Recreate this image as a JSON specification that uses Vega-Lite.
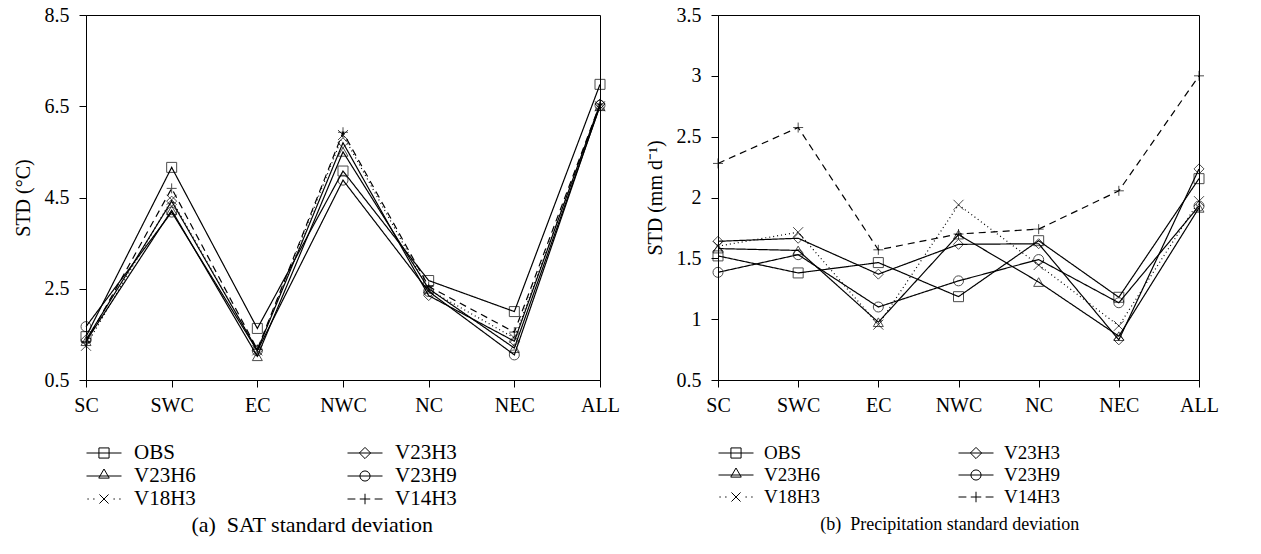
{
  "$schema": "https://vega.github.io/schema/vega-lite/v6.json",
  "background": "white",
  "padding": {"left": 12, "top": 4, "right": 5, "bottom": 5},
  "spacing": 24,
  "config": {
    "font": "Liberation Serif",
    "view": {"stroke": "black", "strokeWidth": 1},
    "axis": {
      "domainColor": "black", "domainWidth": 1, "tickColor": "black", "tickWidth": 1, "tickSize": 7,
      "labelColor": "black", "titleColor": "black", "labelFont": "Liberation Serif", "titleFont": "Liberation Serif",
      "labelFontSize": 20, "titleFontSize": 20, "titleFontWeight": "normal", "grid": false
    },
    "legend": {
      "labelFont": "Liberation Serif", "labelFontSize": 20, "labelColor": "black",
      "symbolSize": 1225, "symbolStrokeColor": "black", "symbolStrokeWidth": 1, "symbolFillColor": "transparent", "symbolOpacity": 1,
      "clipHeight": 20, "rowPadding": 2, "labelOffset": 11, "symbolOffset": 0, "padding": 0
    },
    "title": {"font": "Liberation Serif", "fontSize": 20, "fontWeight": "normal", "color": "black"}
  },
  "resolve": {"scale": {"shape": "independent", "strokeDash": "independent"}, "legend": {"shape": "independent", "strokeDash": "independent"}},
  "datasets": {
    "sat": [
      {"region": "SC", "series": "OBS", "std": 1.45}, {"region": "SC", "series": "V23H3", "std": 1.38}, {"region": "SC", "series": "V23H6", "std": 1.35}, {"region": "SC", "series": "V23H9", "std": 1.67}, {"region": "SC", "series": "V18H3", "std": 1.25}, {"region": "SC", "series": "V14H3", "std": 1.32},
      {"region": "SWC", "series": "OBS", "std": 5.16}, {"region": "SWC", "series": "V23H3", "std": 4.42}, {"region": "SWC", "series": "V23H6", "std": 4.22}, {"region": "SWC", "series": "V23H9", "std": 4.18}, {"region": "SWC", "series": "V18H3", "std": 4.45}, {"region": "SWC", "series": "V14H3", "std": 4.7},
      {"region": "EC", "series": "OBS", "std": 1.63}, {"region": "EC", "series": "V23H3", "std": 1.15}, {"region": "EC", "series": "V23H6", "std": 1.02}, {"region": "EC", "series": "V23H9", "std": 1.14}, {"region": "EC", "series": "V18H3", "std": 1.15}, {"region": "EC", "series": "V14H3", "std": 1.17},
      {"region": "NWC", "series": "OBS", "std": 5.08}, {"region": "NWC", "series": "V23H3", "std": 5.7}, {"region": "NWC", "series": "V23H6", "std": 5.5}, {"region": "NWC", "series": "V23H9", "std": 4.88}, {"region": "NWC", "series": "V18H3", "std": 5.87}, {"region": "NWC", "series": "V14H3", "std": 5.93},
      {"region": "NC", "series": "OBS", "std": 2.68}, {"region": "NC", "series": "V23H3", "std": 2.35}, {"region": "NC", "series": "V23H6", "std": 2.5}, {"region": "NC", "series": "V23H9", "std": 2.44}, {"region": "NC", "series": "V18H3", "std": 2.48}, {"region": "NC", "series": "V14H3", "std": 2.55},
      {"region": "NEC", "series": "OBS", "std": 2.0}, {"region": "NEC", "series": "V23H3", "std": 1.35}, {"region": "NEC", "series": "V23H6", "std": 1.2}, {"region": "NEC", "series": "V23H9", "std": 1.05}, {"region": "NEC", "series": "V18H3", "std": 1.42}, {"region": "NEC", "series": "V14H3", "std": 1.55},
      {"region": "ALL", "series": "OBS", "std": 6.98}, {"region": "ALL", "series": "V23H3", "std": 6.55}, {"region": "ALL", "series": "V23H6", "std": 6.5}, {"region": "ALL", "series": "V23H9", "std": 6.52}, {"region": "ALL", "series": "V18H3", "std": 6.5}, {"region": "ALL", "series": "V14H3", "std": 6.55}
    ],
    "pre": [
      {"region": "SC", "series": "OBS", "std": 1.52}, {"region": "SC", "series": "V23H3", "std": 1.64}, {"region": "SC", "series": "V23H6", "std": 1.58}, {"region": "SC", "series": "V23H9", "std": 1.385}, {"region": "SC", "series": "V18H3", "std": 1.6}, {"region": "SC", "series": "V14H3", "std": 2.28},
      {"region": "SWC", "series": "OBS", "std": 1.38}, {"region": "SWC", "series": "V23H3", "std": 1.665}, {"region": "SWC", "series": "V23H6", "std": 1.565}, {"region": "SWC", "series": "V23H9", "std": 1.53}, {"region": "SWC", "series": "V18H3", "std": 1.715}, {"region": "SWC", "series": "V14H3", "std": 2.575},
      {"region": "EC", "series": "OBS", "std": 1.465}, {"region": "EC", "series": "V23H3", "std": 1.37}, {"region": "EC", "series": "V23H6", "std": 0.975}, {"region": "EC", "series": "V23H9", "std": 1.1}, {"region": "EC", "series": "V18H3", "std": 0.955}, {"region": "EC", "series": "V14H3", "std": 1.57},
      {"region": "NWC", "series": "OBS", "std": 1.185}, {"region": "NWC", "series": "V23H3", "std": 1.615}, {"region": "NWC", "series": "V23H6", "std": 1.695}, {"region": "NWC", "series": "V23H9", "std": 1.315}, {"region": "NWC", "series": "V18H3", "std": 1.94}, {"region": "NWC", "series": "V14H3", "std": 1.7},
      {"region": "NC", "series": "OBS", "std": 1.645}, {"region": "NC", "series": "V23H3", "std": 1.62}, {"region": "NC", "series": "V23H6", "std": 1.305}, {"region": "NC", "series": "V23H9", "std": 1.49}, {"region": "NC", "series": "V18H3", "std": 1.445}, {"region": "NC", "series": "V14H3", "std": 1.74},
      {"region": "NEC", "series": "OBS", "std": 1.18}, {"region": "NEC", "series": "V23H3", "std": 0.83}, {"region": "NEC", "series": "V23H6", "std": 0.86}, {"region": "NEC", "series": "V23H9", "std": 1.135}, {"region": "NEC", "series": "V18H3", "std": 0.945}, {"region": "NEC", "series": "V14H3", "std": 2.055},
      {"region": "ALL", "series": "OBS", "std": 2.155}, {"region": "ALL", "series": "V23H3", "std": 2.235}, {"region": "ALL", "series": "V23H6", "std": 1.915}, {"region": "ALL", "series": "V23H9", "std": 1.93}, {"region": "ALL", "series": "V18H3", "std": 1.97}, {"region": "ALL", "series": "V14H3", "std": 3.0}
    ]
  },
  "hconcat": [
    {
      "width": 514, "height": 365,
      "data": {"name": "sat"},
      "title": {"text": "(a)\u2002SAT standard deviation", "orient": "bottom", "frame": "bounds", "anchor": "middle", "offset": 6, "fontSize": 22, "dx": -4},
      "encoding": {
        "x": {"field": "region", "type": "nominal", "sort": ["SC", "SWC", "EC", "NWC", "NC", "NEC", "ALL"], "scale": {"type": "point", "padding": 0}, "axis": {"title": null, "labelAngle": 0, "labelPadding": 8}},
        "y": {"field": "std", "type": "quantitative", "scale": {"domain": [0.5, 8.5], "nice": false, "zero": false}, "axis": {"title": "STD (°C)", "values": [0.5, 2.5, 4.5, 6.5, 8.5], "format": ".1f", "labelPadding": 10, "titlePadding": 11}}
      },
      "resolve": {"scale": {"shape": "independent"}, "legend": {"shape": "independent"}},
      "layer": [
        {
          "mark": {"type": "line", "color": "black", "strokeWidth": 1.2},
          "encoding": {
            "detail": {"field": "series"},
            "strokeDash": {"field": "series", "type": "nominal", "scale": {"domain": ["V18H3", "V14H3", "OBS", "V23H3", "V23H6", "V23H9"], "range": [[1, 3], [7, 5], [1, 0], [1, 0], [1, 0], [1, 0]]}, "legend": null}
          }
        },
        {
          "mark": {"type": "point", "filled": false, "color": "black", "strokeWidth": 1, "size": 100},
          "encoding": {
            "shape": {"field": "series", "type": "nominal", "scale": {"domain": ["V14H3", "OBS", "V23H3", "V23H6", "V23H9", "V18H3"], "range": ["M-1,0H1M0,-1V1", "square", "diamond", "triangle-up", "circle", "M-1,-1L1,1M-1,1L1,-1"]}, "legend": null}
          }
        },
        {
          "mark": {"type": "point", "filled": false, "color": "black", "strokeWidth": 1, "size": 100, "opacity": 0},
          "encoding": {
            "shape": {"field": "series", "type": "nominal", "scale": {"domain": ["OBS", "V23H3", "V23H6", "V23H9", "V18H3", "V14H3"], "range": ["M-1,0H1M-0.29,-0.29H0.29V0.29H-0.29Z", "M-1,0H1M0,-0.32L0.32,0L0,0.32L-0.32,0Z", "M-1,0H1M0,-0.4L0.3,0.12H-0.3Z", "M-1,0H1M0.29,0A0.29,0.29,0,1,1,-0.29,0A0.29,0.29,0,1,1,0.29,0Z", "M-0.95,0H-0.87M-0.62,0H-0.54M0.54,0H0.62M0.87,0H0.95M-0.26,-0.26L0.26,0.26M-0.26,0.26L0.26,-0.26", "M-1,0H-0.55M0.55,0H1M-0.3,0H0.3M0,-0.3V0.3"]},
              "legend": {"title": null, "orient": "bottom", "direction": "horizontal", "columns": 2, "columnPadding": 151, "offset": 28, "labelFontSize": 21, "labelOffset": 12, "symbolOpacity": 1}}
          }
        }
      ]
    },
    {
      "width": 481, "height": 365,
      "data": {"name": "pre"},
      "title": {"text": "(b)\u2002Precipitation standard deviation", "orient": "bottom", "frame": "bounds", "anchor": "middle", "offset": 6, "fontSize": 18, "dx": 18, "dy": 3},
      "encoding": {
        "x": {"field": "region", "type": "nominal", "sort": ["SC", "SWC", "EC", "NWC", "NC", "NEC", "ALL"], "scale": {"type": "point", "padding": 0}, "axis": {"title": null, "labelAngle": 0, "labelPadding": 8}},
        "y": {"field": "std", "type": "quantitative", "scale": {"domain": [0.5, 3.5], "nice": false, "zero": false}, "axis": {"title": "STD (mm d⁻¹)", "values": [0.5, 1, 1.5, 2, 2.5, 3, 3.5], "format": "~g", "labelPadding": 10, "titlePadding": 11}}
      },
      "resolve": {"scale": {"shape": "independent"}, "legend": {"shape": "independent"}},
      "layer": [
        {
          "mark": {"type": "line", "color": "black", "strokeWidth": 1.2},
          "encoding": {
            "detail": {"field": "series"},
            "strokeDash": {"field": "series", "type": "nominal", "scale": {"domain": ["V18H3", "V14H3", "OBS", "V23H3", "V23H6", "V23H9"], "range": [[1, 3], [7, 5], [1, 0], [1, 0], [1, 0], [1, 0]]}, "legend": null}
          }
        },
        {
          "mark": {"type": "point", "filled": false, "color": "black", "strokeWidth": 1, "size": 100},
          "encoding": {
            "shape": {"field": "series", "type": "nominal", "scale": {"domain": ["V14H3", "OBS", "V23H3", "V23H6", "V23H9", "V18H3"], "range": ["M-1,0H1M0,-1V1", "square", "diamond", "triangle-up", "circle", "M-1,-1L1,1M-1,1L1,-1"]}, "legend": null}
          }
        },
        {
          "mark": {"type": "point", "filled": false, "color": "black", "strokeWidth": 1, "size": 100, "opacity": 0},
          "encoding": {
            "shape": {"field": "series", "type": "nominal", "scale": {"domain": ["OBS", "V23H3", "V23H6", "V23H9", "V18H3", "V14H3"], "range": ["M-1,0H1M-0.29,-0.29H0.29V0.29H-0.29Z", "M-1,0H1M0,-0.32L0.32,0L0,0.32L-0.32,0Z", "M-1,0H1M0,-0.4L0.3,0.12H-0.3Z", "M-1,0H1M0.29,0A0.29,0.29,0,1,1,-0.29,0A0.29,0.29,0,1,1,0.29,0Z", "M-0.95,0H-0.87M-0.62,0H-0.54M0.54,0H0.62M0.87,0H0.95M-0.26,-0.26L0.26,0.26M-0.26,0.26L0.26,-0.26", "M-1,0H-0.55M0.55,0H1M-0.3,0H0.3M0,-0.3V0.3"]},
              "legend": {"title": null, "orient": "bottom", "direction": "horizontal", "columns": 2, "columnPadding": 138, "offset": 28, "labelFontSize": 19, "labelOffset": 10, "symbolOpacity": 1}}
          }
        }
      ]
    }
  ]
}
